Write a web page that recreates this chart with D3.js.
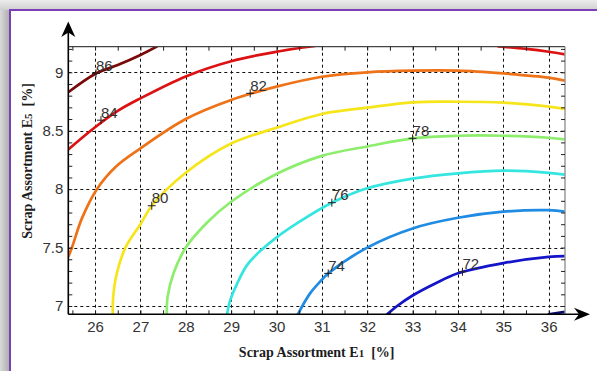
<!DOCTYPE html>
<html>
<head>
<meta charset="utf-8">
<script src="https://cdn.jsdelivr.net/npm/d3@7"></script>
<style>
  html, body { margin: 0; padding: 0; background: #fff; }
  svg { display: block; }
</style>
</head>
<body>
<script>
const width = 597;
const height = 371;

// plot box in pixels
const PLOT_L = 68.3, PLOT_R = 565, PLOT_T = 46.7, PLOT_B = 314.3;

// axis ranges and ticks
const xDomain = [25.41, 36.36];
const yDomain = [6.929, 9.219];
const xMajor = [26, 27, 28, 29, 30, 31, 32, 33, 34, 35, 36];
const yMajor = [7, 7.5, 8, 8.5, 9];
const xMinor = [25.5, 26, 26.5, 27, 27.5, 28, 28.5, 29, 29.5, 30, 30.5, 31, 31.5, 32, 32.5, 33, 33.5, 34, 34.5, 35, 35.5, 36];
const yMinor = [7, 7.1, 7.2, 7.3, 7.4, 7.5, 7.6, 7.7, 7.8, 7.9, 8, 8.1, 8.2, 8.3, 8.4, 8.5, 8.6, 8.7, 8.8, 8.9, 9, 9.1, 9.2];

// contour lines [E1, E5]
const line86 = [[25.41, 8.83], [26.02, 8.99], [26.5, 9.062], [27.0, 9.148], [27.36, 9.22]];
const line84a = [[25.41, 8.34], [26.0, 8.53], [26.5, 8.67], [27.0, 8.777], [28.0, 8.965], [29.0, 9.095], [30.0, 9.176], [30.85, 9.225]];
const line84b = [[34.89, 9.222], [35.5, 9.2], [36.0, 9.176], [36.36, 9.154]];
const line82 = [[25.41, 7.421], [25.49, 7.5], [25.71, 7.75], [26.04, 8.0], [26.48, 8.2], [27.0, 8.349], [28.0, 8.6], [29.0, 8.763], [30.0, 8.877], [31.0, 8.962], [32.0, 9.0], [33.0, 9.014], [34.0, 9.014], [35.0, 8.99], [36.0, 8.954], [36.36, 8.928]];
const line80 = [[26.39, 6.929], [26.40, 7.08], [26.48, 7.28], [26.67, 7.5], [27.0, 7.70], [27.25, 7.858], [28.0, 8.14], [29.0, 8.39], [30.0, 8.525], [31.0, 8.643], [32.0, 8.697], [33.0, 8.743], [34.0, 8.748], [35.0, 8.74], [36.0, 8.706], [36.36, 8.686]];
const line78 = [[27.58, 6.929], [27.6, 7.08], [27.73, 7.28], [28.0, 7.5], [28.46, 7.71], [29.0, 7.892], [30.0, 8.13], [31.0, 8.285], [32.0, 8.365], [33.0, 8.435], [34.0, 8.457], [35.0, 8.457], [36.0, 8.44], [36.36, 8.426]];
const line76 = [[28.91, 6.929], [28.98, 7.05], [29.13, 7.19], [29.35, 7.35], [29.64, 7.47], [30.01, 7.59], [30.5, 7.72], [31.22, 7.884], [32.0, 8.007], [33.0, 8.09], [34.0, 8.135], [35.0, 8.158], [36.0, 8.14], [36.36, 8.125]];
const line74 = [[30.47, 6.929], [30.74, 7.108], [31.0, 7.225], [31.14, 7.279], [32.0, 7.5], [33.0, 7.664], [34.0, 7.755], [35.0, 7.807], [36.0, 7.82], [36.36, 7.807]];
const line72 = [[32.44, 6.929], [32.66, 7.0], [33.0, 7.09], [33.5, 7.193], [34.0, 7.28], [35.0, 7.367], [36.0, 7.42], [36.36, 7.427]];
const line70 = [[36.0, 6.929], [36.36, 6.95]];

const contours = [line86, line84a, line84b, line82, line80, line78, line76, line74, line72, line70];
const contourColors = ["#7a0a0a", "#dd1111", "#dd1111", "#ee7218", "#f7e51c", "#8ded6c", "#35e6e0", "#1f8be2", "#1414c8", "#0a0a70"];

// inline labels with "+" markers
const labelText = ["86", "84", "82", "80", "78", "76", "74", "72"];
const labelX = [26.02, 26.13, 29.42, 27.25, 33.0, 31.22, 31.14, 34.1];
const labelY = [8.99, 8.59, 8.82, 7.858, 8.435, 7.884, 7.279, 7.293];

const svg = d3.select("body").append("svg")
    .attr("width", width)
    .attr("height", height);

const defs = svg.append("defs");
const gTop = defs.append("linearGradient").attr("id", "gtop")
    .attr("x1", 0).attr("y1", 0).attr("x2", 0).attr("y2", 1);
gTop.append("stop").attr("offset", 0).attr("stop-color", "#ececec");
gTop.append("stop").attr("offset", 1).attr("stop-color", "#cfcfcf");
const gLeft = defs.append("linearGradient").attr("id", "gleft")
    .attr("x1", 0).attr("y1", 0).attr("x2", 1).attr("y2", 0);
gLeft.append("stop").attr("offset", 0).attr("stop-color", "#d9d9d9");
gLeft.append("stop").attr("offset", 1).attr("stop-color", "#ababab");
defs.append("clipPath").attr("id", "plotclip")
  .append("rect")
    .attr("x", PLOT_L).attr("y", PLOT_T)
    .attr("width", PLOT_R - PLOT_L).attr("height", PLOT_B - PLOT_T);

// window frame
svg.append("rect").attr("width", width).attr("height", 10).attr("fill", "url(#gtop)");
svg.append("rect").attr("y", 10).attr("width", 10).attr("height", height - 10).attr("fill", "url(#gleft)");
svg.append("rect").attr("x", 9).attr("y", 9).attr("width", width - 9).attr("height", 2).attr("fill", "#7b3fb8");
svg.append("rect").attr("x", 9).attr("y", 9).attr("width", 2).attr("height", height - 9).attr("fill", "#7b3fb8");

const x = d3.scaleLinear().domain(xDomain).range([PLOT_L, PLOT_R]);
const y = d3.scaleLinear().domain(yDomain).range([PLOT_B, PLOT_T]);

// dashed grid
const grid = svg.append("g")
    .attr("stroke", "#111")
    .attr("stroke-width", 1)
    .attr("stroke-dasharray", "3,3");
grid.selectAll("line.gx").data(xMajor).enter().append("line")
    .attr("x1", d => Math.round(x(d)) + 0.5).attr("x2", d => Math.round(x(d)) + 0.5)
    .attr("y1", PLOT_T).attr("y2", PLOT_B);
grid.selectAll("line.gy").data(yMajor).enter().append("line")
    .attr("y1", d => Math.round(y(d)) + 0.5).attr("y2", d => Math.round(y(d)) + 0.5)
    .attr("x1", PLOT_L).attr("x2", PLOT_R);

// contour lines
const line = d3.line()
    .x(d => x(d[0]))
    .y(d => y(d[1]))
    .curve(d3.curveCatmullRom.alpha(0.5));

svg.append("g")
    .attr("clip-path", "url(#plotclip)")
  .selectAll("path")
  .data(contours)
  .enter().append("path")
    .attr("d", line)
    .attr("fill", "none")
    .attr("stroke", (d, i) => contourColors[i])
    .attr("stroke-width", 2.7)
    .attr("stroke-linecap", "round");

// labels
const labels = svg.append("g");
labelText.forEach((t, i) => {
    const px = x(labelX[i]), py = y(labelY[i]);
    labels.append("path")
        .attr("d", `M${px - 4},${py}H${px + 4}M${px},${py - 4}V${py + 4}`)
        .attr("stroke", "#222")
        .attr("stroke-width", 1);
    labels.append("text")
        .attr("x", px)
        .attr("y", py - 2.5)
        .attr("font-family", "Liberation Sans, Arial, sans-serif")
        .attr("font-size", 15)
        .attr("fill", "#333")
        .text(t);
});

// frame: top and right
svg.append("line")
    .attr("x1", PLOT_L).attr("x2", PLOT_R)
    .attr("y1", PLOT_T).attr("y2", PLOT_T)
    .attr("stroke", "#444").attr("stroke-width", 1.2);
svg.append("line")
    .attr("x1", PLOT_R).attr("x2", PLOT_R)
    .attr("y1", PLOT_T).attr("y2", PLOT_B)
    .attr("stroke", "#9a9a9a").attr("stroke-width", 1.5);

// inward minor ticks on all four sides
const tickFont = "Liberation Sans, Arial, sans-serif";
function styleAxis(g) {
    g.select(".domain").remove();
    g.selectAll(".tick line").attr("stroke", "#222").attr("stroke-width", 1);
}
svg.append("g").attr("transform", `translate(${PLOT_L},0)`)
    .call(d3.axisLeft(y).tickValues(yMinor).tickSize(-4).tickFormat(""))
    .call(styleAxis);
svg.append("g").attr("transform", `translate(${PLOT_R},0)`)
    .call(d3.axisRight(y).tickValues(yMinor).tickSize(-4).tickFormat(""))
    .call(styleAxis);
svg.append("g").attr("transform", `translate(0,${PLOT_B})`)
    .call(d3.axisBottom(x).tickValues(xMinor).tickSize(-4).tickFormat(""))
    .call(styleAxis);
svg.append("g").attr("transform", `translate(0,${PLOT_T})`)
    .call(d3.axisTop(x).tickValues(xMinor).tickSize(-4).tickFormat(""))
    .call(styleAxis);

// tick labels
const yLab = svg.append("g").attr("transform", `translate(${PLOT_L},0)`)
    .call(d3.axisLeft(y).tickValues(yMajor).tickSize(0).tickPadding(5).tickFormat(d3.format("")));
yLab.select(".domain").remove();
yLab.selectAll("text").attr("font-family", tickFont).attr("font-size", 15).attr("fill", "#333");

const xLab = svg.append("g").attr("transform", `translate(0,${PLOT_B})`)
    .call(d3.axisBottom(x).tickValues(xMajor).tickSize(0).tickPadding(7).tickFormat(d3.format("")));
xLab.select(".domain").remove();
xLab.selectAll("text").attr("font-family", tickFont).attr("font-size", 15).attr("fill", "#333");

// axis lines with arrow heads
const axes = svg.append("g").attr("fill", "#000").attr("stroke", "#000");
axes.append("line")
    .attr("x1", PLOT_L).attr("x2", PLOT_L)
    .attr("y1", PLOT_B).attr("y2", 32)
    .attr("stroke-width", 1.6);
axes.append("line")
    .attr("x1", PLOT_L).attr("x2", 580)
    .attr("y1", PLOT_B).attr("y2", PLOT_B)
    .attr("stroke-width", 1.6);
axes.append("path")
    .attr("stroke", "none")
    .attr("d", `M${PLOT_L},21.5L${PLOT_L + 7},37L${PLOT_L},32.5L${PLOT_L - 7},37Z`);
axes.append("path")
    .attr("stroke", "none")
    .attr("d", `M590,${PLOT_B}L574,${PLOT_B - 6.5}L579,${PLOT_B}L574,${PLOT_B + 6.5}Z`);

// axis titles
const titleFont = "Liberation Serif, 'DejaVu Serif', serif";
const xt = svg.append("text")
    .attr("x", (PLOT_L + PLOT_R) / 2)
    .attr("y", 356.5)
    .attr("text-anchor", "middle")
    .attr("font-family", titleFont)
    .attr("font-weight", "bold")
    .attr("font-size", 14)
    .attr("fill", "#1c1c1c");
xt.append("tspan").text("Scrap Assortment E");
xt.append("tspan").attr("font-size", 11).text("1");
xt.append("tspan").attr("xml:space", "preserve").text("  [%]");

const yt = svg.append("text")
    .attr("transform", "translate(31.5,161) rotate(-90)")
    .attr("text-anchor", "middle")
    .attr("font-family", titleFont)
    .attr("font-weight", "bold")
    .attr("font-size", 14)
    .attr("fill", "#1c1c1c");
yt.append("tspan").text("Scrap Assortment E");
yt.append("tspan").attr("font-size", 11).text("5");
yt.append("tspan").attr("xml:space", "preserve").text("  [%]");
</script>
</body>
</html>
